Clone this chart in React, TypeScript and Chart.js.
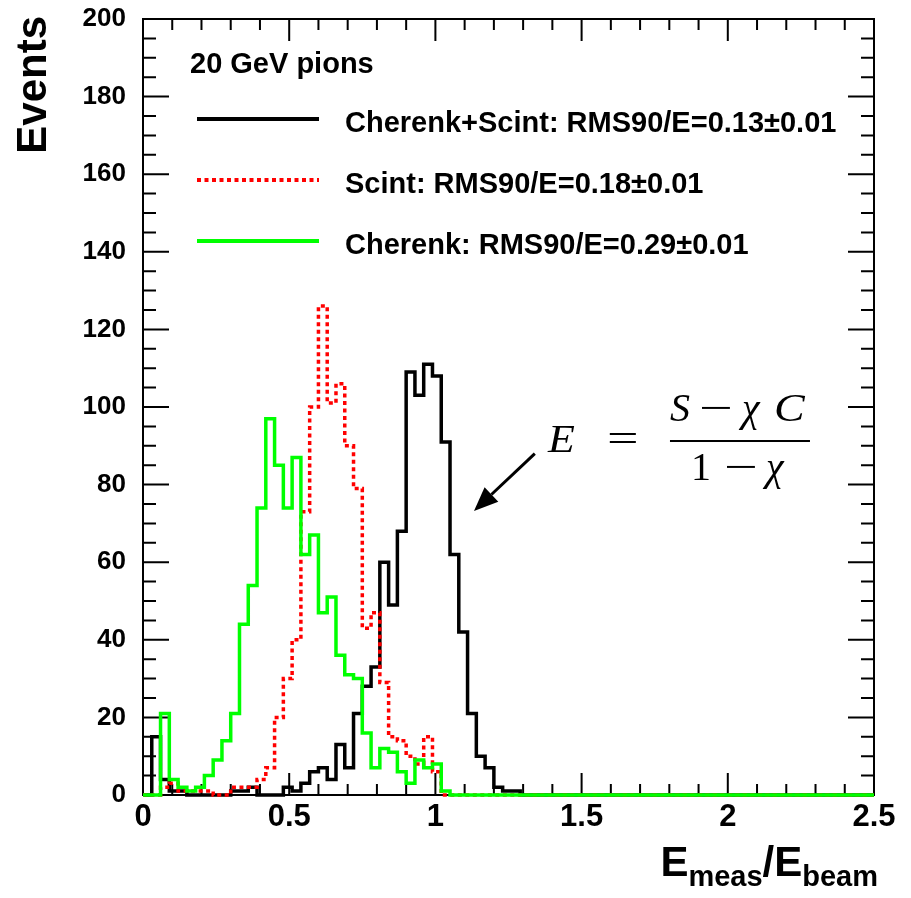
import React, { useEffect, useRef } from "react";
import { Chart, registerables } from "chart.js";

Chart.register(...registerables);

// ---------------- data ----------------
const BIN_WIDTH = 0.03; // Emeas/Ebeam per bin
const N_BINS = 84;
const X_MIN = 0;
const X_MAX = 2.5;
const Y_MIN = 0;
const Y_MAX = 200;
const X_LABEL_STEP = 0.5;
const X_MINOR_STEP = 0.1;
const Y_LABEL_STEP = 20;
const Y_MINOR_STEP = 5;

// counts per bin, starting at Emeas/Ebeam = 0 (remaining bins are empty)
const cherenkScintCounts = [
  0, 15, 4, 1, 1, 0, 0, 0, 0, 0, 1, 1, 2, 0, 0, 0, 2, 1, 3, 6, 7, 4, 13, 7, 21,
  28, 33, 60, 49, 68, 109, 103, 111, 108, 91, 62, 42, 21, 10, 7, 2, 1, 1,
];
const scintCounts = [
  0, 0, 2, 3, 1, 1, 1, 1, 0, 0, 2, 2, 2, 4, 7, 20, 30, 40, 73, 100, 126, 101, 106,
  90, 79, 43, 47, 29, 15, 14, 10, 8, 15, 6,
];
const cherenkCounts = [
  0, 0, 21, 4, 2, 1, 2, 5, 9, 14, 21, 44, 54, 74, 97, 85, 74, 87, 62, 67, 47, 51,
  36, 31, 30, 16, 7, 12, 11, 6, 3, 9, 7, 8, 1,
];

const LEGEND_HEADER = "20 GeV pions";
const SERIES_LABELS = [
  "Cherenk+Scint: RMS90/E=0.13\u00b10.01",
  "Scint: RMS90/E=0.18\u00b10.01",
  "Cherenk: RMS90/E=0.29\u00b10.01",
];
const Y_TITLE = "Events";
const X_TITLE_PARTS = [
  { text: "E", sub: false },
  { text: "meas", sub: true },
  { text: "/E", sub: false },
  { text: "beam", sub: true },
];

// annotation anchors in data units
const FORMULA_ANCHOR = { x: 1.385, y: 88.4 };
const ARROW_FROM = { x: 1.34, y: 88.0 };
const ARROW_TO = { x: 1.132, y: 73.2 };

// ---------------- styles ----------------
const SANS = "'Liberation Sans', Arial, Helvetica, sans-serif";
const SERIF = "'Liberation Serif', 'Times New Roman', serif";
const COLORS = ["#000000", "#ff0000", "#00ff00"];
const DASHES: number[][] = [[], [4, 3.5], []];
const LINE_W = 3.5;

function toSteps(counts: number[]) {
  const pts: { x: number; y: number }[] = [];
  for (let k = 0; k < N_BINS; k++) pts.push({ x: k * BIN_WIDTH, y: counts[k] ?? 0 });
  pts.push({ x: N_BINS * BIN_WIDTH, y: 0 });
  return pts;
}

const decor = {
  id: "decor",
  beforeDatasetsDraw(chart: any) {
    const { ctx, chartArea: a, scales } = chart;
    const xs = scales.x;
    const ys = scales.y;
    ctx.save();
    ctx.strokeStyle = "#000";
    ctx.lineWidth = 2;
    ctx.strokeRect(a.left, a.top, a.right - a.left, a.bottom - a.top);
    ctx.beginPath();
    const nx = Math.round((X_MAX - X_MIN) / X_MINOR_STEP);
    const per = Math.round(X_LABEL_STEP / X_MINOR_STEP);
    for (let i = 0; i <= nx; i++) {
      const px = xs.getPixelForValue(X_MIN + i * X_MINOR_STEP);
      const len = i % per === 0 ? 22 : 11;
      ctx.moveTo(px, a.bottom);
      ctx.lineTo(px, a.bottom - len);
      ctx.moveTo(px, a.top);
      ctx.lineTo(px, a.top + len);
    }
    const ny = Math.round((Y_MAX - Y_MIN) / Y_MINOR_STEP);
    const pery = Math.round(Y_LABEL_STEP / Y_MINOR_STEP);
    for (let i = 0; i <= ny; i++) {
      const py = ys.getPixelForValue(Y_MIN + i * Y_MINOR_STEP);
      const len = i % pery === 0 ? 26 : 13;
      ctx.moveTo(a.left, py);
      ctx.lineTo(a.left + len, py);
      ctx.moveTo(a.right, py);
      ctx.lineTo(a.right - len, py);
    }
    ctx.stroke();
    ctx.restore();
  },
  afterDatasetsDraw(chart: any) {
    const { ctx, chartArea: a, scales } = chart;
    const xs = scales.x;
    const ys = scales.y;
    ctx.save();
    ctx.fillStyle = "#000";

    // legend header
    ctx.font = `bold 29px ${SANS}`;
    ctx.textAlign = "left";
    ctx.textBaseline = "alphabetic";
    ctx.fillText(LEGEND_HEADER, a.left + 47, a.top + 54);

    // legend entries
    for (let i = 0; i < SERIES_LABELS.length; i++) {
      const ly = a.top + 100 + i * 61;
      ctx.save();
      ctx.strokeStyle = COLORS[i];
      ctx.lineWidth = 4;
      ctx.setLineDash(DASHES[i]);
      ctx.beginPath();
      ctx.moveTo(a.left + 54, ly);
      ctx.lineTo(a.left + 176, ly);
      ctx.stroke();
      ctx.restore();
      ctx.font = `bold 29px ${SANS}`;
      ctx.fillText(SERIES_LABELS[i], a.left + 202, ly + 13);
    }

    // y title
    ctx.save();
    ctx.font = `bold 42px ${SANS}`;
    ctx.translate(46, a.top - 3);
    ctx.rotate(-Math.PI / 2);
    ctx.textAlign = "right";
    ctx.fillText(Y_TITLE, 0, 0);
    ctx.restore();

    // x title with subscripts
    const mainFont = `bold 42px ${SANS}`;
    const subFont = `bold 29px ${SANS}`;
    let total = 0;
    const widths = X_TITLE_PARTS.map((p) => {
      ctx.font = p.sub ? subFont : mainFont;
      const w = ctx.measureText(p.text).width;
      total += w;
      return w;
    });
    let cx = a.right + 4 - total;
    X_TITLE_PARTS.forEach((p, i) => {
      ctx.font = p.sub ? subFont : mainFont;
      ctx.textAlign = "left";
      ctx.fillText(p.text, cx, p.sub ? a.bottom + 91 : a.bottom + 81);
      cx += widths[i];
    });

    // arrow
    const x0 = xs.getPixelForValue(ARROW_FROM.x);
    const y0 = ys.getPixelForValue(ARROW_FROM.y);
    const x1 = xs.getPixelForValue(ARROW_TO.x);
    const y1 = ys.getPixelForValue(ARROW_TO.y);
    const ang = Math.atan2(y1 - y0, x1 - x0);
    const headLen = 24;
    const headHalf = 10;
    const bx = x1 - headLen * Math.cos(ang);
    const by = y1 - headLen * Math.sin(ang);
    ctx.strokeStyle = "#000";
    ctx.lineWidth = 3;
    ctx.beginPath();
    ctx.moveTo(x0, y0);
    ctx.lineTo(bx, by);
    ctx.stroke();
    ctx.beginPath();
    ctx.moveTo(x1, y1);
    ctx.lineTo(bx - headHalf * Math.sin(ang), by + headHalf * Math.cos(ang));
    ctx.lineTo(bx + headHalf * Math.sin(ang), by - headHalf * Math.cos(ang));
    ctx.closePath();
    ctx.fill();

    // formula E = (S - chi C)/(1 - chi)
    const fx = xs.getPixelForValue(FORMULA_ANCHOR.x);
    const fy = ys.getPixelForValue(FORMULA_ANCHOR.y);
    const it = `italic 40px ${SERIF}`;
    const rm = `40px ${SERIF}`;
    const pieces = [
      { t: "E", f: it, dx: 0, dy: 0, sx: 1.1 },
      { t: "=", f: rm, dx: 59, dy: 0, sx: 1.4 },
      { t: "S", f: it, dx: 122, dy: -31, sx: 1 },
      { t: "\u2212", f: rm, dx: 151, dy: -31, sx: 1.5 },
      { t: "\u03c7", f: it, dx: 194, dy: -31, sx: 1 },
      { t: "C", f: it, dx: 226, dy: -31, sx: 1.15 },
      { t: "1", f: rm, dx: 143, dy: 28, sx: 1 },
      { t: "\u2212", f: rm, dx: 176, dy: 28, sx: 1.5 },
      { t: "\u03c7", f: it, dx: 218, dy: 28, sx: 1 },
    ];
    ctx.textAlign = "left";
    ctx.textBaseline = "alphabetic";
    for (const p of pieces) {
      ctx.save();
      ctx.font = p.f;
      ctx.translate(fx + p.dx, fy + p.dy);
      ctx.scale(p.sx, 1);
      ctx.fillText(p.t, 0, 0);
      ctx.restore();
    }
    ctx.fillRect(fx + 122, fy - 12, 140, 2);
    ctx.restore();
  },
};

export default function App() {
  const ref = useRef<HTMLCanvasElement>(null);
  useEffect(() => {
    document.body.style.margin = "0";
    const canvas = ref.current;
    if (!canvas) return;
    const seriesCounts = [cherenkScintCounts, scintCounts, cherenkCounts];
    const datasets = seriesCounts.map((c, i) => ({
      label: SERIES_LABELS[i],
      data: toSteps(c),
      borderColor: COLORS[i],
      backgroundColor: COLORS[i],
      borderWidth: LINE_W,
      borderDash: DASHES[i],
      pointRadius: 0,
      fill: false,
      stepped: true,
      tension: 0,
      order: 3 - i,
      clip: { left: 2, top: 0, right: 0, bottom: 3 },
    }));
    const chart = new Chart(canvas, {
      type: "line",
      data: { datasets } as any,
      options: {
        animation: false,
        responsive: false,
        events: [],
        layout: { padding: { top: 19, right: 37, bottom: 0, left: 0 } },
        plugins: {
          legend: { display: false },
          tooltip: { enabled: false },
          title: { display: false },
        },
        scales: {
          x: {
            type: "linear",
            min: X_MIN,
            max: X_MAX,
            grid: { display: false, drawTicks: false },
            border: { display: false },
            ticks: {
              stepSize: X_LABEL_STEP,
              padding: 4,
              color: "#000",
              maxRotation: 0,
              autoSkip: false,
              font: { family: SANS, size: 31, weight: "bold" },
              callback: (v: any) => String(Math.round(Number(v) * 10) / 10),
            },
            afterFit: (s: any) => {
              s.height = 103;
              s.paddingLeft = 0;
              s.paddingRight = 0;
            },
          },
          y: {
            type: "linear",
            min: Y_MIN,
            max: Y_MAX,
            grid: { display: false, drawTicks: false },
            border: { display: false },
            ticks: {
              stepSize: Y_LABEL_STEP,
              padding: 17,
              color: "#000",
              font: { family: SANS, size: 26, weight: "bold" },
              callback: (v: any) => String(Math.round(Number(v))),
            },
            afterFit: (s: any) => {
              s.width = 143;
              s.paddingTop = 0;
              s.paddingBottom = 0;
            },
          },
        },
      } as any,
      plugins: [decor],
    });
    return () => chart.destroy();
  }, []);
  return (
    <div style={{ position: "absolute", left: 0, top: 0, width: 911, height: 898 }}>
      <canvas ref={ref} width={911} height={898} style={{ display: "block" }} />
    </div>
  );
}
